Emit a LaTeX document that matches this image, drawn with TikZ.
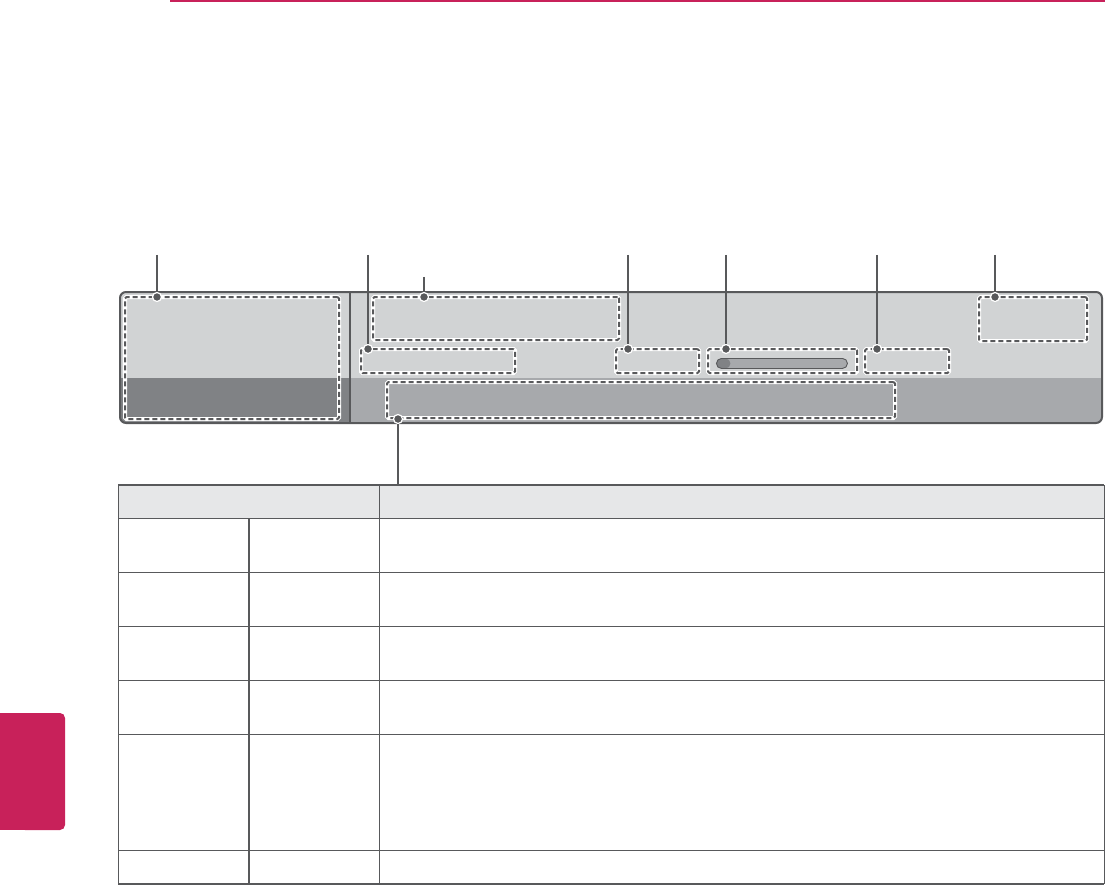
\documentclass[tikz,border=0pt]{standalone}
\usetikzlibrary{calc}
\definecolor{lgpink}{HTML}{C8215A}
\definecolor{panelL}{HTML}{D1D3D4}
\definecolor{panelD}{HTML}{808285}
\definecolor{panelM}{HTML}{A7A9AC}
\definecolor{edgegray}{HTML}{58595B}
\definecolor{hdrgray}{HTML}{E6E7E8}
\tikzset{
  area/.style={draw=edgegray, line width=2pt, dash pattern=on 5pt off 3pt,
    rounded corners=1.5pt, inner sep=0pt, outer sep=0pt, anchor=north west,
    preaction={draw=white, line width=4pt, solid}},
  dotmark/.style={circle, fill=edgegray, draw=white, line width=1.2pt, inner sep=0pt, minimum size=9pt},
  leader/.style={draw=edgegray, line width=2pt},
  thinrule/.style={draw=edgegray, line width=1pt},
  thickrule/.style={draw=edgegray, line width=2.2pt},
}
\begin{document}
\begin{tikzpicture}[x=1pt,y=-1pt]
\useasboundingbox (0,0) rectangle (1105,885);
% page decorations
\fill[lgpink] (170,0) rectangle (1105,1.6);
\fill[lgpink] (0,713) rectangle (40,830);
\fill[lgpink, rounded corners=5pt] (20,713) rectangle (65,830);

% panel background
\begin{scope}
\clip[rounded corners=6pt] (120,292) rectangle (1102,423);
\fill[panelL] (120,292) rectangle (1102,377.5);
\fill[panelD] (120,377.5) rectangle (350,423);
\fill[panelM] (350,377.5) rectangle (1102,423);
\end{scope}
\draw[edgegray, line width=2.4pt] (350,292) -- (350,423);
\node[draw=edgegray, line width=2pt, rounded corners=6pt, inner sep=0pt, outer sep=0pt,
  minimum width=982pt, minimum height=131pt, anchor=north west] (panel) at (120,292) {};

% dashed areas
\node[area, minimum width=214pt, minimum height=122pt] (a1) at (125,297) {};
\node[area, minimum width=246pt, minimum height=43pt] (a2) at (373,297) {};
\node[area, minimum width=154pt, minimum height=24pt] (a3) at (361,349) {};
\node[area, minimum width=83pt, minimum height=24pt] (a4) at (616,349) {};
\node[area, minimum width=149pt, minimum height=24pt] (a5) at (708,349) {};
\node[area, minimum width=84pt, minimum height=24pt] (a6) at (865,349) {};
\node[area, minimum width=108pt, minimum height=44pt] (a7) at (979,297) {};
\node[area, minimum width=508pt, minimum height=36pt] (a8) at (387,382) {};

% progress bar
\node[draw=edgegray, line width=0.9pt, fill=panelM, rounded corners=5pt, inner sep=0pt,
  minimum width=131pt, minimum height=10pt, anchor=north west,
  path picture={\fill[panelD] (path picture bounding box.north west) rectangle
    ([xshift=14pt]path picture bounding box.south west);}] (bar) at (716,358) {};

% table
\node[fill=hdrgray, inner sep=0pt, outer sep=0pt, minimum width=986pt, minimum height=33pt,
  anchor=north west] (hdr) at (118,485) {};
\foreach \yy in {518,572,626,680,734,850} \draw[thinrule] (118,\yy) -- (1104,\yy);
\draw[thinrule] (118,485) -- (118,884);
\draw[thinrule] (1104,485) -- (1104,884);
\draw[thinrule] (379,485) -- (379,884);
\draw[edgegray, line width=2pt] (249,518) -- (249,884);
\draw[thickrule] (118,485) -- (1104,485);
\draw[thickrule] (118,884) -- (1104,884);

% leader dots
\node[dotmark] (d1) at (157,297) {};
\node[dotmark] (d2) at (368,349) {};
\node[dotmark] (d3) at (424,297) {};
\node[dotmark] (d4) at (628,349) {};
\node[dotmark] (d5) at (726,349) {};
\node[dotmark] (d6) at (877,349) {};
\node[dotmark] (d7) at (995,297) {};
\node[dotmark] (d8) at (398,419) {};

% leader ends
\coordinate (t1) at (157,255);
\coordinate (t2) at (368,255);
\coordinate (t3) at (424,277);
\coordinate (t4) at (628,255);
\coordinate (t5) at (726,255);
\coordinate (t6) at (877,255);
\coordinate (t7) at (995,255);

\draw[leader] (t1) -- (d1);
\draw[leader] (t2) -- (d2);
\draw[leader] (t3) -- (d3);
\draw[leader] (t4) -- (d4);
\draw[leader] (t5) -- (d5);
\draw[leader] (t6) -- (d6);
\draw[leader] (t7) -- (d7);
\draw[leader] (d8) -- (d8 |- hdr.north);
\end{tikzpicture}
\end{document}
